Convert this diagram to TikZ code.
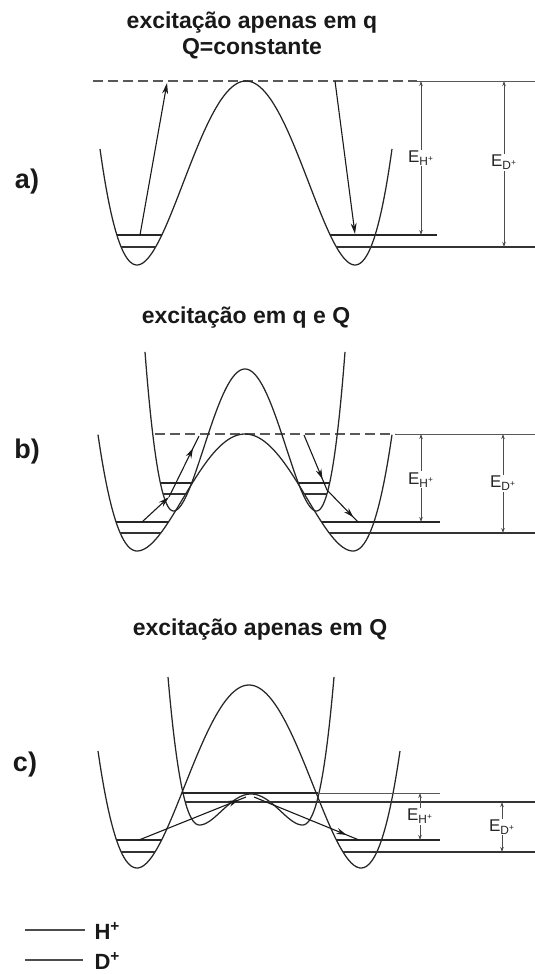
\documentclass[tikz,border=0pt]{standalone}
\usepackage{fontspec}
\setmainfont{Liberation Sans}
\usetikzlibrary{arrows.meta,decorations.markings}
\tikzset{
  declare function={wv(\t,\B,\W)=((abs(\t)<1)?\B:\W)*(\t*\t-1)*(\t*\t-1);},
  curve/.style={line width=1.25pt, black!85},
  hlev/.style={line width=1.8pt, black!85},
  dlev/.style={line width=1.1pt, black!80},
  thinline/.style={line width=0.9pt, black!65},
  dashline/.style={line width=1.1pt, black!65, dash pattern=on 10pt off 5pt},
  eline/.style={line width=0.8pt, black!70, {Stealth[length=5pt,width=3.5pt]}-{Stealth[length=5pt,width=3.5pt]}},
  titletext/.style={font=\bfseries\fontsize{23}{26}\selectfont, align=center, text=black!90},
  plabel/.style={font=\bfseries\fontsize{27}{30}\selectfont, text=black!90},
  elabel/.style={font=\fontsize{17}{19}\selectfont, fill=white, inner sep=1pt, text=black!85},
  legtext/.style={font=\bfseries\fontsize{22}{24}\selectfont, anchor=west, text=black!90},
  tr/.style={line width=1.1pt, black!90, -{Stealth[length=11pt,width=6pt]}},
  trplain/.style={line width=1.1pt, black!90},
  midarrow/.style={postaction={decorate,decoration={markings,mark=at position #1 with {\arrow{Stealth[length=10pt,width=6pt]}}}}},
}
\newcommand\levL[7]{\draw[#7] ({#1-#2*sqrt(1+sqrt(#6/#4))},{#5-#6}) -- ({#1-#2*sqrt(1-sqrt(#6/#3))},{#5-#6});}
\newcommand\levR[7]{\draw[#7] ({#1+#2*sqrt(1-sqrt(#6/#3))},{#5-#6}) -- ({#1+#2*sqrt(1+sqrt(#6/#4))},{#5-#6});}
\newcommand\levX[8]{\draw[#7] ({#1+#2*sqrt(1-sqrt(#6/#3))},{#5-#6}) -- (#8,{#5-#6});}
\newcommand\EH{E\textsubscript{H\textsuperscript{+}}}
\newcommand\ED{E\textsubscript{D\textsuperscript{+}}}
\begin{document}
\begin{tikzpicture}[x=1pt,y=-1pt]
\useasboundingbox (0,0) rectangle (535,974);

% ================= a) =================
\node[titletext] (ta) at (252,35) {excitação apenas em q\\Q=constante};
\node[plabel] (la) at (27,182) {a)};
\draw[dashline] (93,81) -- (417,81);
\draw[thinline] (417,81) -- (535,81);
\draw[curve] plot[domain=100:392, samples=150, smooth] (\x,{265-wv((\x-246)/109,184,184)});
\levL{246}{109}{184}{184}{265}{30}{hlev}
\levL{246}{109}{184}{184}{265}{18}{dlev}
\levX{246}{109}{184}{184}{265}{30}{hlev}{437}
\levX{246}{109}{184}{184}{265}{18}{dlev}{535}
\coordinate (a1s) at (140,235);
\coordinate (a1e) at (167,83);
\coordinate (a2s) at (335,81);
\coordinate (a2e) at (355,234);
\draw[tr] (a1s) -- (a1e);
\draw[tr] (a2s) -- (a2e);
\coordinate (aEHt) at (421,81);
\coordinate (aEHb) at (421,235);
\coordinate (aEDt) at (504,81);
\coordinate (aEDb) at (504,247);
\draw[eline] (aEHt) -- (aEHb) node[elabel, pos=0.5] (aEHl) {\EH};
\draw[eline] (aEDt) -- (aEDb) node[elabel, pos=0.49] (aEDl) {\ED};

% ================= b) =================
\node[titletext] (tb) at (246,318) {excitação em q e Q};
\node[plabel] (lb) at (27,452) {b)};
\draw[dashline] (155,434) -- (395,434);
\draw[thinline] (395,434) -- (535,434);
\draw[curve] plot[domain=98:392, samples=150, smooth] (\x,{551-wv((\x-245)/108,117,160)});
\draw[curve] plot[domain=145:345, samples=150, smooth] (\x,{511-wv((\x-245)/71.5,142,174)});
% outer well levels
\levL{245}{108}{117}{160}{551}{29}{hlev}
\levL{245}{108}{117}{160}{551}{18}{dlev}
\levX{245}{108}{117}{160}{551}{29}{hlev}{440}
\levX{245}{108}{117}{160}{551}{18}{dlev}{535}
% inner well levels
\levL{245}{71.5}{142}{174}{511}{28}{hlev}
\levL{245}{71.5}{142}{174}{511}{17}{dlev}
\levR{245}{71.5}{142}{174}{511}{28}{hlev}
\levR{245}{71.5}{142}{174}{511}{17}{dlev}
\coordinate (b1) at (142,522);
\coordinate (b2) at (169,497);
\coordinate (b3) at (199,436);
\coordinate (b4) at (304,435);
\coordinate (b5) at (327,490);
\coordinate (b6) at (358,522);
\draw[tr] (b1) -- (b2);
\draw[trplain, midarrow=0.8] (b2) -- (b3);
\draw[trplain, midarrow=0.8] (b4) -- (b5);
\draw[trplain, midarrow=0.85] (b5) -- (b6);
\coordinate (bEHt) at (421,434);
\coordinate (bEHb) at (421,522);
\coordinate (bEDt) at (503,434);
\coordinate (bEDb) at (503,533);
\draw[eline] (bEHt) -- (bEHb) node[elabel, pos=0.52] (bEHl) {\EH};
\draw[eline] (bEDt) -- (bEDb) node[elabel, pos=0.5] (bEDl) {\ED};

% ================= c) =================
\node[titletext] (tc) at (260,630) {excitação apenas em Q};
\node[plabel] (lc) at (25,765) {c)};
\draw[curve] plot[domain=98:400, samples=150, smooth] (\x,{868-wv((\x-249)/112,183,175)});
\draw[curve] plot[domain=168:334, samples=150, smooth] (\x,{825-wv((\x-251)/51.5,31,58)});
\draw[hlev] (182,793) -- (318,793);
\draw[thinline] (318,793) -- (440,793);
\draw[dlev] (186,802) -- (535,802);
\levL{249}{112}{183}{175}{868}{28}{hlev}
\levL{249}{112}{183}{175}{868}{16}{dlev}
\levX{249}{112}{183}{175}{868}{28}{hlev}{440}
\levX{249}{112}{183}{175}{868}{16}{dlev}{535}
\coordinate (c1) at (139,840);
\coordinate (c2) at (246,797);
\coordinate (c3) at (254,797);
\coordinate (c4) at (359,840);
\draw[trplain, midarrow=0.93] (c1) -- (c2);
\draw[trplain, midarrow=0.88] (c3) -- (c4);
\coordinate (cEHt) at (420,793);
\coordinate (cEHb) at (420,840);
\coordinate (cEDt) at (502,802);
\coordinate (cEDb) at (502,852);
\draw[eline] (cEHt) -- (cEHb) node[elabel, pos=0.5] (cEHl) {\EH};
\draw[eline] (cEDt) -- (cEDb) node[elabel, pos=0.5] (cEDl) {\ED};

% ================= legend =================
\coordinate (lh1) at (25,930);
\coordinate (lh2) at (85,930);
\coordinate (ld1) at (25,960);
\coordinate (ld2) at (83,960);
\draw[line width=2pt, black!70] (lh1) -- (lh2);
\draw[line width=1.1pt, black!70] (ld1) -- (ld2);
\node[legtext] (lgh) at (91,931) {H\textsuperscript{+}};
\node[legtext] (lgd) at (91,961) {D\textsuperscript{+}};
\end{tikzpicture}
\end{document}
